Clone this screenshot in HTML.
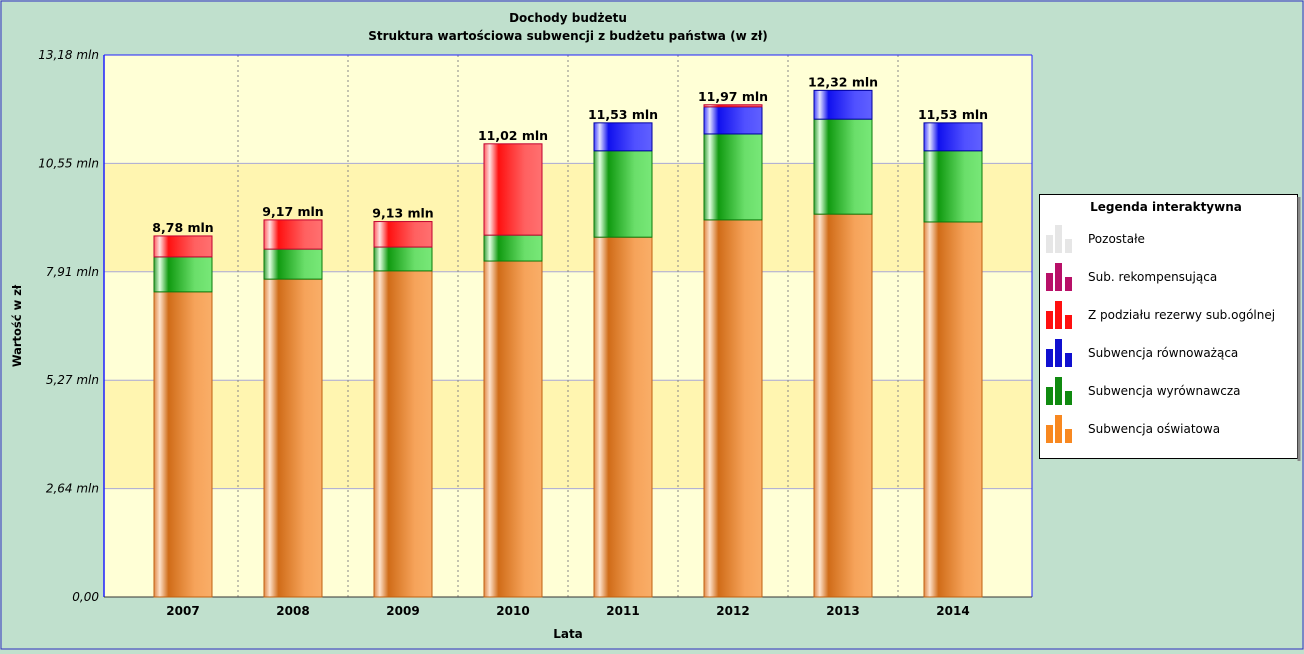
<!DOCTYPE html>
<html><head><meta charset="utf-8"><style>
body{margin:0;width:1304px;height:650px;overflow:hidden;background:#c0e0cd;font-family:"DejaVu Sans","Liberation Sans",sans-serif}
svg text{font-family:"DejaVu Sans","Liberation Sans",sans-serif}
</style></head><body>
<svg width="1304" height="650" xmlns="http://www.w3.org/2000/svg">
<defs>
<linearGradient id="gO" x1="0" x2="1"><stop offset="0" stop-color="#e08a4a"/><stop offset="0.1" stop-color="#fde0c8"/><stop offset="0.25" stop-color="#d06c18"/><stop offset="0.7" stop-color="#f6a35a"/><stop offset="1" stop-color="#f9ae68"/></linearGradient>
<linearGradient id="gG" x1="0" x2="1"><stop offset="0" stop-color="#3aa03a"/><stop offset="0.1" stop-color="#e0ffe0"/><stop offset="0.25" stop-color="#109a10"/><stop offset="0.7" stop-color="#6ade6a"/><stop offset="1" stop-color="#78e878"/></linearGradient>
<linearGradient id="gR" x1="0" x2="1"><stop offset="0" stop-color="#ff6060"/><stop offset="0.1" stop-color="#ffe0e0"/><stop offset="0.25" stop-color="#ff1010"/><stop offset="0.7" stop-color="#ff6060"/><stop offset="1" stop-color="#ff7070"/></linearGradient>
<linearGradient id="gB" x1="0" x2="1"><stop offset="0" stop-color="#4040ff"/><stop offset="0.1" stop-color="#e0e0ff"/><stop offset="0.25" stop-color="#1010ee"/><stop offset="0.7" stop-color="#5050ff"/><stop offset="1" stop-color="#6060ff"/></linearGradient>
</defs>
<rect x="1" y="1" width="1302" height="648" fill="#c0e0cd" stroke="#3030c0" stroke-width="1"/>
<text x="568" y="22" text-anchor="middle" font-size="12" font-weight="bold">Dochody budżetu</text>
<text x="568" y="40" text-anchor="middle" font-size="12" font-weight="bold">Struktura wartościowa subwencji z budżetu państwa (w zł)</text>
<g id="plot"></g>
<text transform="translate(21,326) rotate(-90)" text-anchor="middle" font-size="11.5" font-weight="bold">Wartość w zł</text>
<text x="568" y="638" text-anchor="middle" font-size="12" font-weight="bold">Lata</text>
<g>
<rect x="1039.5" y="194.5" width="258" height="264" fill="#fff" stroke="#000"/>
<rect x="1297.5" y="197" width="3" height="264" fill="#888"/>
<text x="1166" y="211" text-anchor="middle" font-size="12" font-weight="bold">Legenda interaktywna</text>
<g id="leg"></g>
</g>
</svg>
<script>
const years=['2007','2008','2009','2010','2011','2012','2013','2014'];
const oswiatowa=[7.42,7.73,7.93,8.17,8.75,9.17,9.31,9.12];
const wyrownawcza=[0.85,0.73,0.58,0.63,2.10,2.09,2.31,1.73];
const rownowazaca=[0,0,0,0,0.68,0.66,0.70,0.68];
const rezerwa=[0.51,0.71,0.62,2.22,0,0.05,0,0];
const totals=['8,78 mln','9,17 mln','9,13 mln','11,02 mln','11,53 mln','11,97 mln','12,32 mln','11,53 mln'];
const yTicks=['0,00','2,64 mln','5,27 mln','7,91 mln','10,55 mln','13,18 mln'];
const yMax=13.18;
const NS='http://www.w3.org/2000/svg';
const X0=104,X1=1032,Y0=597,Y1=55;
const y=v=>Y0-(v/yMax)*(Y0-Y1);
const xc=i=>183+110*i;
const plot=document.getElementById('plot');
function mk(t,a,p){const e=document.createElementNS(NS,t);for(const k in a)e.setAttribute(k,a[k]);(p||plot).appendChild(e);return e;}
for(let i=0;i<yTicks.length-1;i++){
 const r=mk('rect',{x:X0,y:y((i+1)*yMax/5),width:X1-X0,height:y(i*yMax/5)-y((i+1)*yMax/5),fill:i%2?'#fff5b0':'#ffffd6'});
 
 
}
yTicks.forEach((t,i)=>{
 const v=i*yMax/5,yy=y(v);
 if(i>0&&i<5){const l=mk('line',{x1:X0,x2:X1,y1:yy,y2:yy,stroke:'#a8a8d8'});
 
 }
 const tx=mk('text',{x:99,y:yy+4,'text-anchor':'end','font-size':'12','font-style':'italic'});
 tx.textContent=t;
 
 
});
for(let i=1;i<years.length;i++){
 const xx=xc(i)-55;
 const l=mk('line',{x1:xx,x2:xx,y1:Y1,y2:Y0,stroke:'#888','stroke-dasharray':'2,3'});
 
 
}
mk('line',{x1:X0,x2:X0,y1:Y1,y2:Y0,stroke:'#2020ff','stroke-width':1.5});
mk('line',{x1:X0,x2:X1,y1:Y1,y2:Y1,stroke:'#2020ff'});
mk('line',{x1:X1,x2:X1,y1:Y1,y2:Y0,stroke:'#2020ff'});
mk('line',{x1:X0,x2:X1,y1:Y0,y2:Y0,stroke:'#333'});
const series=[[oswiatowa,'url(#gO)','#c06010','bar-oswiatowa'],[wyrownawcza,'url(#gG)','#0a7a0a','bar-wyrownawcza'],[rownowazaca,'url(#gB)','#0000a0','bar-rownowazaca'],[rezerwa,'url(#gR)','#c00030','bar-rezerwa']];
years.forEach((yr,i)=>{
 let base=0;const w=58,x=xc(i)-w/2;
 series.forEach(([arr,f,s,n])=>{
  const v=arr[i];if(v<=0)return;
  const top=y(base+v),bot=y(base);
  const r=mk('rect',{x:x,y:top,width:w,height:bot-top,fill:f,stroke:s,'stroke-width':1});
  
  
  base+=v;
 });
 const t=mk('text',{x:xc(i),y:y(base)-4,'text-anchor':'middle','font-size':'12.5','font-weight':'bold'});
 t.textContent=totals[i];
 
 
 const xl=mk('text',{x:xc(i),y:615,'text-anchor':'middle','font-size':'12','font-weight':'bold'});
 xl.textContent=yr;
 
 
});
const leg=document.getElementById('leg');
const legItems=[['Pozostałe','#e6e6e6'],['Sub. rekompensująca','#b81068'],['Z podziału rezerwy sub.ogólnej','#ff1010'],['Subwencja równoważąca','#1010d0'],['Subwencja wyrównawcza','#108a10'],['Subwencja oświatowa','#f88820']];
legItems.forEach(([lab,c],i)=>{
 const yy=225+i*38;
 const g=mk('g',{},leg);
 
 
 mk('rect',{x:1046,y:yy+10,width:7,height:18,fill:c},g);
 mk('rect',{x:1055,y:yy,width:7,height:28,fill:c},g);
 mk('rect',{x:1065,y:yy+14,width:7,height:14,fill:c},g);
 const t=mk('text',{x:1088,y:yy+18,'font-size':'12'},g);
 t.textContent=lab;
});
</script>
</body></html>
